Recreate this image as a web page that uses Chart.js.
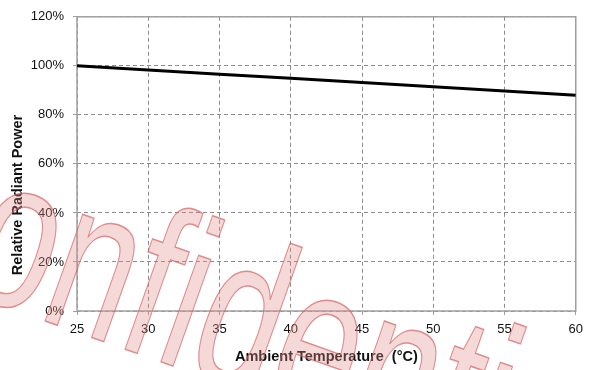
<!DOCTYPE html>
<html>
<head>
<meta charset="utf-8">
<script src="https://cdn.jsdelivr.net/npm/chart.js@4.4.0/dist/chart.umd.min.js"></script>
<style>
  html, body { margin: 0; padding: 0; background: #ffffff; }
  #wrap { width: 590px; height: 370px; position: relative; }
</style>
</head>
<body>
<div id="wrap"><canvas id="Chart"></canvas></div>
<script>
//temperature points and relative power
var temps = [25, 30, 35, 40, 45, 50, 55, 60];
var power = [100, 98.3, 96.6, 94.9, 93.2, 91.5, 89.7, 88];

var yTitle = "Relative Radiant Power";
var xTitle = "Ambient Temperature  (°C)";
var stamp = "Confidential";

var tickFont = { family: "'Liberation Sans', Arial, sans-serif", size: 13 };

//frame around plot + y title
var framePlugin = {
  id: "frame",
  beforeDatasetsDraw: function (chart) {
    var a = chart.chartArea;
    var ctx = chart.ctx;
    ctx.save();
    ctx.strokeStyle = "#a0a0a0";
    ctx.lineWidth = 1.5;
    ctx.strokeRect(a.left, a.top, a.right - a.left, a.bottom - a.top);
    ctx.restore();
  },
  afterDraw: function (chart) {
    var ctx = chart.ctx;
    ctx.save();
    ctx.translate(18, 195);
    ctx.rotate(-Math.PI / 2);
    ctx.font = "bold 14.5px 'Liberation Sans', Arial, sans-serif";
    ctx.fillStyle = "#111";
    ctx.textAlign = "center";
    ctx.textBaseline = "middle";
    ctx.fillText(yTitle, 0, 0);
    ctx.restore();
  },
};

//big outlined stamp across the chart (narrowed, tilted)
var stampPlugin = {
  id: "stamp",
  afterDraw: function (chart) {
    var ctx = chart.ctx;
    ctx.save();
    ctx.font = "214px 'Liberation Sans', Arial, sans-serif";
    ctx.translate(-42, 290);
    ctx.rotate((19.5 * Math.PI) / 180);
    ctx.scale(0.69, 1);
    var off = ctx.measureText("C").width;
    ctx.fillStyle = "rgba(225, 140, 140, 0.33)";
    ctx.strokeStyle = "rgba(210, 100, 100, 0.7)";
    ctx.lineWidth = 1.5;
    ctx.fillText(stamp, -off, 0);
    ctx.strokeText(stamp, -off, 0);
    ctx.restore();
  },
};

var ctx = document.getElementById("Chart").getContext("2d");

var myChart = new Chart(ctx, {
  type: "line",
  data: {
    datasets: [
      {
        data: temps.map(function (t, i) {
          return { x: t, y: power[i] };
        }),
        borderColor: "#000000",
        borderWidth: 3,
        pointRadius: 0,
        tension: 0,
      },
    ],
  },
  options: {
    responsive: true,
    maintainAspectRatio: false,
    animation: false,
    layout: { padding: { top: 15, right: 13, left: 0, bottom: 0 } },
    plugins: {
      legend: { display: false },
      tooltip: { enabled: false },
    },
    scales: {
      x: {
        type: "linear",
        min: 25,
        max: 60,
        afterFit: function (scale) {
          scale.height = 59;
        },
        ticks: {
          stepSize: 5,
          color: "#111",
          font: tickFont,
          padding: 7,
        },
        grid: {
          color: "#8c8c8c",
          tickColor: "#a0a0a0",
          tickLength: 4,
        },
        border: { display: false, dash: [4, 3] },
        title: {
          display: true,
          text: xTitle,
          color: "#111",
          font: { family: "'Liberation Sans', Arial, sans-serif", size: 14.5, weight: "bold" },
          padding: { top: 8 },
        },
      },
      y: {
        min: 0,
        max: 120,
        afterFit: function (scale) {
          scale.width = 77;
        },
        ticks: {
          stepSize: 20,
          color: "#111",
          font: tickFont,
          padding: 9,
          callback: function (v) {
            return v + "%";
          },
        },
        grid: {
          color: "#8c8c8c",
          tickColor: "#a0a0a0",
          tickLength: 4,
        },
        border: { display: false, dash: [4, 3] },
      },
    },
  },
  plugins: [framePlugin, stampPlugin],
});
</script>
</body>
</html>
